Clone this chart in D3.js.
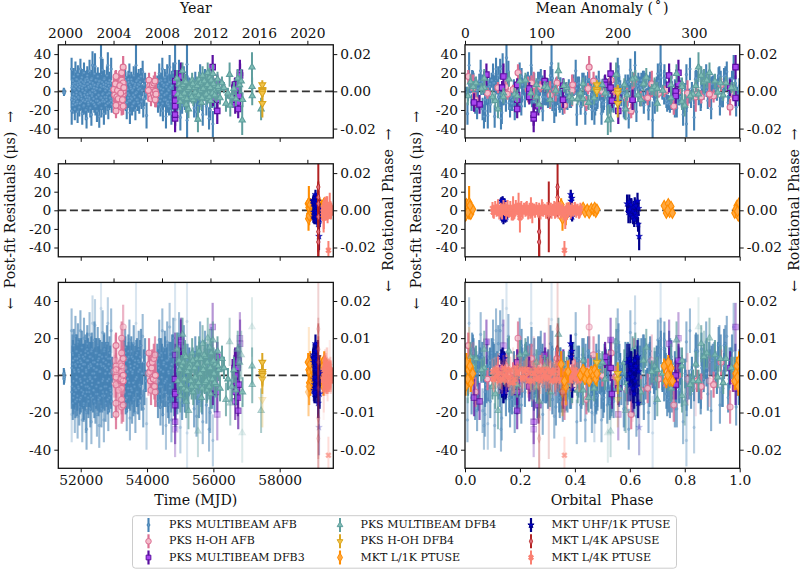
<!DOCTYPE html>
<html><head><meta charset="utf-8">
<script src="https://cdn.jsdelivr.net/npm/d3@7/dist/d3.min.js"></script>
<style>
html,body{margin:0;padding:0;background:#fff}
text{font-family:"DejaVu Serif",serif;fill:#111;white-space:pre}
</style></head><body><svg id="c" width="810" height="574"></svg>
<script>
// Each row: MJD, orbital phase, residual (us), uncertainty (us)
const pksMultibeamAfb = [
[51490,.021,1,3],[51495,.582,-2,3],[51500,.803,0,3],[51505,.344,-1,3],
[51725,.113,24,12],[51728,.471,-21,15],[51735,.862,4,8],[51744,.295,-6,9],[51752,.648,12,10],[51760,.037,-15,9],
[51772,.524,8,6],[51781,.917,-3,7],[51790,.206,16,9],[51802,.733,-10,8],[51811,.392,2,6],[51822,.064,-19,12],
[51833,.611,6,7],[51841,.953,21,11],[51853,.268,-8,8],[51862,.487,13,9],[51874,.826,-1,6],[51885,.149,-13,9],
[51893,.698,9,7],[51906,.325,-22,12],[51915,.559,18,10],[51926,.081,3,6],[51937,.779,-7,8],[51948,.432,11,9],
[51957,.987,-17,10],[51969,.231,5,7],[51980,.664,-2,6],[51991,.128,24,11],[52003,.506,-12,8],[52012,.891,7,7],
[52024,.355,-5,6],[52035,.743,15,9],[52046,.009,-24,12],[52055,.573,1,6],[52067,.282,10,7],[52079,.936,-9,8],
[52088,.421,-16,9],[52099,.712,20,11],[52111,.176,-4,7],[52120,.628,6,6],[52133,.048,-11,8],[52142,.839,13,9],
[52154,.462,-20,11],[52165,.249,2,6],[52176,.596,-29,11],[52187,.968,8,7],[52198,.311,17,10],[52209,.757,-6,7],
[52221,.097,12,8],[52232,.541,-14,9],[52243,.874,4,6],[52254,.218,-9,8],[52266,.403,22,12],[52277,.683,-1,6],
[52289,.164,-18,10],[52299,.908,10,8],[52311,.449,5,6],[52322,.794,-25,12],[52334,.026,14,9],[52345,.337,-3,6],
[52356,.619,28,15],[52368,.197,-12,8],[52379,.513,7,7],[52391,.851,-8,7],[52403,.272,1,6],[52414,.726,19,10],
[52431,.137,27,14],[52444,.474,-16,10],[52455,.985,3,6],[52466,.382,-10,8],[52478,.656,12,8],[52489,.073,-21,12],
[52501,.565,6,6],[52513,.923,16,10],[52525,.258,-4,6],[52536,.807,-13,9],[52548,.415,9,7],[52559,.108,-27,12],
[52571,.689,2,6],[52582,.531,11,8],[52594,.299,-7,7],[52612,.151,36,18],[52624,.771,-18,10],[52636,.943,5,7],
[52649,.373,-11,9],[52661,.602,23,12],[52674,.183,-2,6],[52686,.055,8,7],[52699,.497,-24,12],[52711,.841,14,9],
[52724,.241,-6,7],[52737,.639,4,6],[52751,.356,-15,10],[52764,.889,10,8],[52778,.443,-9,8],[52791,.121,17,10],
[52805,.719,-3,6],[52818,.015,28,14],[52832,.581,-19,11],[52846,.287,6,7],[52860,.958,-12,8],[52874,.678,1,6],
[52888,.225,9,7],[52903,.522,-8,8],[52918,.819,24,12],[52935,.092,-14,9],[52948,.405,3,7],
[53305,.747,11,9],[53322,.169,-6,7],[53340,.551,15,10],[53356,.318,-13,8],[53371,.881,4,6],[53388,.044,-19,11],
[53405,.628,9,7],[53421,.264,-2,6],[53436,.972,13,9],[53452,.459,-10,8],[53468,.702,19,11],[53484,.134,-23,12],
[53501,.392,5,6],[53518,.834,-7,7],[53533,.593,10,8],[53549,.205,-16,10],[53566,.067,2,6],[53582,.508,-4,6],
[53599,.926,17,10],[53615,.343,-12,8],[53631,.764,6,7],[53649,.181,-20,11],[53667,.241,28,24],[53684,.615,-1,6],
[53701,.031,12,8],[53716,.482,-9,8],[53733,.869,8,7],[53749,.276,14,10],[53766,.691,-15,9],[53782,.116,3,6],
[53799,.541,-6,7],[53816,.943,16,9],[53833,.368,-11,8],[53851,.785,1,6],[53868,.158,21,12],[53886,.578,-18,10],
[53904,.303,7,7],[53921,.997,-8,8],[53941,.427,11,9],[53961,.662,-3,6],[53985,.083,-26,14],
[54310,.219,9,8],[54330,.746,-14,9],[54350,.469,4,6],[54368,.102,19,11],[54387,.857,-6,7],[54405,.331,-17,10],
[54424,.631,12,8],[54442,.005,-1,6],[54461,.556,24,12],[54479,.283,-21,11],[54498,.912,6,7],[54516,.174,-9,8],
[54535,.713,15,9],[54552,.418,-3,6],[54571,.069,-27,13],[54589,.598,8,7],[54608,.806,18,11],[54626,.352,-11,9],
[54644,.143,2,6],[54663,.518,-16,10],[54681,.978,26,13],[54699,.254,-5,7],[54718,.673,10,8],[54735,.438,-24,12],
[54754,.029,13,9],[54772,.781,-8,7],[54791,.199,20,11],[54812,.614,-13,9],[54846,.315,30,24],[54865,.896,-19,11],
[54884,.491,3,6],[54903,.122,-6,7],[54925,.725,14,9],[54944,.386,-10,8],[54965,.057,22,12],[54984,.571,-2,6],
[55005,.834,-28,14],[55030,.236,9,8],[55058,.651,-15,9],[55083,.459,5,6],[55110,.948,17,10],[55139,.161,-12,8],
[55168,.367,-5,7],[55205,.712,29,25],[55208,.683,-31,20],[55240,.534,-11,9],[55275,.091,8,7],
[55420,.764,-18,10],[55455,.272,12,9],[55492,.624,-22,11],[55530,.041,6,7],[55565,.503,-14,9],[55601,.878,18,11],
[55640,.196,-9,8],[55680,.407,-25,12],[55712,.739,3,6],[55748,.318,14,10],[55790,.928,-16,10],[55828,.562,9,8],
[55870,.131,-29,12],[55905,.668,-20,11],[55945,.242,16,10],[55985,.806,-35,14],[56035,.476,-11,9],[56072,.018,6,8]
];
const pksMultibeamAfbDense = [
[51732,.352,-9,9],[51747,.777,6,10],[51765,.204,11,8],[51778,.613,-12,9],[51795,.047,3,8],[51808,.939,-7,10],
[51826,.508,9,8],[51838,.263,-14,9],[51857,.691,5,8],[51869,.126,-4,7],[51881,.847,13,9],[51898,.446,-11,8],
[51911,.017,7,9],[51923,.586,-6,8],[51944,.319,2,7],[51954,.751,10,9],[51973,.171,-13,8],[51986,.902,8,9],
[51998,.461,-3,7],[52008,.642,12,8],[52020,.244,-8,9],[52040,.059,4,8],[52060,.823,-10,8],[52073,.378,6,7],
[52094,.527,-15,9],[52105,.984,9,8],[52126,.147,-1,7],[52138,.705,11,8],[52148,.289,-6,9],[52160,.436,3,7],
[52182,.073,-9,8],[52193,.861,14,9],[52204,.616,-3,8],[52216,.332,8,7],[52227,.188,-12,9],[52238,.551,5,8],
[52260,.768,-7,8],[52271,.921,10,8],[52283,.498,-2,7],[52294,.035,6,9],[52306,.251,-11,8],[52317,.674,13,8],
[52340,.413,-5,7],[52351,.801,1,8],[52363,.103,9,9],[52385,.592,-8,8],[52398,.966,4,7],[52409,.345,-14,9],
[52420,.209,7,8],[52438,.719,-1,7],[52450,.528,12,8],[52472,.085,-6,8],[52484,.273,3,7],[52507,.884,-10,9],
[52519,.637,8,8],[52542,.463,-4,7],[52553,.156,11,9],[52577,.741,-12,8],[52588,.396,2,7],[52606,.999,6,8],
[52618,.569,-7,9],[52643,.222,10,8],[52655,.308,-3,7],[52667,.859,-9,9],[52692,.117,5,8],[52705,.651,13,9],
[52718,.482,-11,8],[52744,.043,1,7],[52757,.781,7,8],[52772,.337,-6,9],[52798,.609,3,7],[52812,.191,-13,8],
[52825,.947,9,9],[52853,.519,-2,7],[52867,.266,12,9],[52881,.078,-7,8],[52896,.731,4,8],[52911,.424,-10,8],
[53314,.089,5,8],[53331,.672,-9,8],[53348,.229,12,9],[53364,.491,-3,7],[53380,.897,8,8],[53397,.362,-12,8],
[53413,.752,2,7],[53429,.138,-7,8],[53444,.584,10,8],[53460,.011,-4,7],[53476,.317,7,9],[53493,.806,-10,9],
[53509,.215,3,7],[53526,.448,13,8],[53541,.649,-8,8],[53558,.963,1,8],[53574,.106,9,8],[53591,.533,-13,9],
[53607,.287,4,7],[53623,.725,-6,8],[53640,.409,8,8],[53658,.869,-2,7],[53676,.052,11,8],[53692,.608,-9,8],
[53708,.196,5,8],[53725,.478,-12,9],[53741,.913,2,7],[53758,.347,7,8],[53774,.658,-5,8],[53790,.081,10,9],
[54318,.561,-8,9],[54340,.037,6,8],[54359,.688,-3,7],[54377,.252,11,9],[54396,.497,-10,8],[54414,.826,3,7],
[54433,.141,-6,9],[54451,.391,9,8],[54470,.736,-13,9],[54488,.603,2,7],[54507,.963,7,8],[54525,.208,-4,8],
[54544,.452,12,9],[54562,.789,-9,8],[54580,.111,5,7],[54598,.327,-2,8],[54617,.668,8,9],[54635,.529,-14,9],
[54654,.879,1,7],[54672,.063,10,8],[54690,.296,-7,8],[54708,.591,4,8],[54727,.753,-11,9],[54745,.178,6,7],
[54763,.409,-3,8],[54782,.931,13,9],[54800,.637,-8,8],[54825,.231,2,7],[54856,.478,9,8],[54874,.815,-5,8],
[54915,.024,-12,9],[54955,.347,7,8],[54995,.696,-1,7],[55045,.547,11,9],[55072,.128,-9,8],[55124,.869,4,7],
[55155,.283,-6,8],[55222,.439,8,9],[55260,.991,-3,8],[55440,.618,5,8],[55510,.183,-7,9],[55580,.395,10,8],
[55660,.858,-12,9],[55730,.521,2,8],[55810,.075,-5,9],[55890,.729,7,8],[55965,.302,-9,9],[56050,.961,-2,9]
];
const pksHohAfb = [
[53064,.012,16,7],[53064,.148,5,7],[53064,.605,-21,8],[53064,.448,3,6],[53064,.362,-15,9],[53064,.725,0,6],[53064,.905,-5,7],[53064,.548,-1,6],
[53235,.193,20,9],[53235,.532,12,8],[53235,.932,7,7],[53235,.442,-13,8],[53235,.154,-3,6],[53235,.665,-7,8],[53235,.965,-17,9],[53235,.275,5,6],[53235,.735,2,5],[53235,.082,-2,6],
[53280,.452,26,12],[53280,.76,-16,9],[53280,.975,-3,6],[53280,.50,0,6],[53280,.335,9,7],
[53000,.23,2,14],[53025,.31,-4,15],[53045,.68,8,14],[53090,.84,-6,16],[53110,.39,1,17],[53135,.59,-8,12],[53180,.25,6,15],[53205,.81,-2,14],[53258,.61,-9,16],[53300,.03,4,14],
[54060,.615,12,8],[54080,.295,6,6],[54090,.175,2,5],[54105,.845,-3,6],[54120,.64,-8,8],[54140,.12,4,6],[54160,.392,7,7],
[54175,.552,-1,6],[54190,.705,-2,5],[54205,.242,9,8],[54225,.86,-6,7],[54240,.468,11,10],[54245,.038,-9,8],[54250,.775,0,6],[54040,.33,1,12],[54270,.89,-3,14]
];
const pksMultibeamDfb3 = [
[54846,.25,-29,15],[54846,.25,-25,12],[54846,.267,-16,10],[54850,.29,11,12],[54840,.234,-2,8],[54846,.357,-9,9],[54850,.535,-10,8],
[55025,.53,19,12],[55025,.078,18,12],[55025,.14,16,14],[55020,.292,7,8],
[55979,.985,26,13],[55979,.965,4,9],[55985,.558,-7,9],
[56118,.558,-21,14],[56118,.61,-9,11],[56118,.51,10,8],
[56640,.135,4,7],[56645,.234,3,7],[56650,.19,7,7],[56655,.51,7,8],[56660,.053,-14,10],[56665,.19,-9,7],[56670,.767,0,8],
[56680,.358,6,8],[56690,.234,-6,8],[56700,.19,-4,7],[56710,.743,7,8],[56720,.985,-7,9],[56730,.53,4,7],[56740,.033,-12,10],
[56750,.19,-19,10],[56760,.777,8,9],[56770,.767,-5,8],[56800,.777,20,14],[56805,.743,17,13]
];
const pksMultibeamDfb4 = [
[54900,.62,14,9],[54930,.18,-3,7],[54965,.43,8,7],[55000,.79,-11,9],[55035,.03,5,6],[55070,.34,22,9],[55105,.56,-7,7],
[55145,.91,11,8],[55180,.27,-14,9],[55220,.68,2,6],[55250,.12,-19,10],[55290,.49,6,6],[55325,.83,-3,6],[55360,.22,12,8],
[55395,.64,-9,7],[55430,.07,4,6],[55465,.38,-6,7],[55500,.95,9,7],[55535,.53,-30,14],[55570,.16,13,8],[55605,.72,1,6],
[55640,.45,-12,8],[55675,.86,17,10],[55710,.29,5,6],[55740,.59,-4,6],[55770,.02,10,8],[55800,.41,-8,7],[55830,.89,20,11],
[55860,.24,-2,6],[55890,.66,15,10],[55920,.11,-10,8],[55950,.50,7,6],[55985,.77,19,10],[56020,.33,1,6],[56055,.84,6,7],
[56090,.19,-5,7],[56125,.61,13,8],[56160,.06,3,6],[56200,.47,-7,7],[56260,.93,9,7],[56320,.37,4,6],[56380,.70,-13,9],
[56440,.14,-2,6],[56490,.55,18,13],[56510,.80,-15,12],[56560,.26,-6,8],[56620,.98,3,7],[56680,.43,-8,8],[56735,.07,14,10],
[56790,.75,7,10],[56840,.87,11,13],[56870,.52,-31,16],[56880,.31,-9,8],[57165,.85,26,16],[57168,.69,5,10],[57172,.01,-5,10],[57440,.585,-19,12],
[54985,.70,3,7],[55020,.82,-5,6],[55090,.26,7,7],[55125,.51,-2,6],[55165,.87,10,7],[55200,.39,-8,7],[55270,.97,4,6],[55345,.14,-6,7],
[55380,.79,8,7],[55450,.92,-1,6],[55515,.36,6,7],[55550,.63,-4,6],[55620,.04,9,7],[55660,.75,-7,7],[55695,.47,3,6],[55725,.20,11,8],
[55785,.85,-3,6],[55815,.58,7,7],[55875,.10,-6,7],[55905,.30,4,6],[55935,.88,12,8],[55970,.42,-2,6],[56005,.65,8,7],[56040,.94,-4,6],[56140,.79,5,6]
];
const pksHohDfb4 = [
[57476,.48,7,5],[57478,.48,2,5],[57476,.556,1,6],[57480,.48,0,6],[57476,.556,-2,8],[57478,.556,-13,15]
];
const mktL1kPtuse = [
[58860,.005,7,5],[58880,.012,3,4],[58900,.021,-4,5],[58910,.028,1,4],[58925,.002,-6,5],[58880,.015,8,18],[58935,.018,5,4],[58950,.01,-2,4],
[58870,.355,-9,13],[58890,.367,-6,10],[58905,.375,2,6],[58920,.35,6,7],[58960,.362,-3,5],[58980,.42,0,3],[59000,.43,3,3],[59020,.437,-2,3],
[59040,.445,1,3],[59060,.452,-3,3],[59080,.46,2,3],[59100,.468,0,3],[59120,.476,-2,3],[59140,.472,3,3],[59160,.48,1,3],
[59180,.725,5,4],[59200,.733,-3,4],[59220,.74,7,4],[59240,.745,-2,4],[59260,.75,4,4],[59275,.738,0,4],[59290,.755,-3,3],
[59300,.982,-3,5],[59310,.99,5,5],[59320,.995,-6,5],[59330,.986,1,4],[59345,.998,8,5],[59350,.992,-1,4]
];
const mktUhfPtuse = [
[59010,.132,10,4],[59020,.137,11,4],[59030,.143,9,4],[59040,.135,-8,4],[59050,.14,-10,5],[59060,.147,-9,4],[59070,.15,-7,5],
[59080,.385,17,5],[59090,.389,13,5],[59100,.386,10,4],[59110,.39,-7,5],
[59020,.59,7,10],[59030,.595,-2,12],[59040,.598,9,8],[59050,.602,-5,9],[59060,.606,4,9],[59070,.61,-1,8],[59080,.604,6,7],
[59090,.612,-7,8],[59100,.615,3,7],[59110,.618,8,6],[59120,.62,-3,8],[59130,.622,5,6],[59140,.625,-6,9],[59150,.628,10,9],
[59160,.63,-15,8],[59175,.632,2,8],[59185,.634,-28,15],[59195,.60,1,7],[59205,.616,-10,8]
];
const mktL4kApsuse = [
[59165,.337,25,28],[59165,.337,14,14],[59165,.337,7,14],[59165,.305,-7,38],[59165,.27,-23,28],[59165,.27,-34,28]
];
const mktL4kPtuse = [
[59320,.100,2,7],[59480,.105,-2,7],[59360,.110,3,7],[59520,.115,-1,6],[59400,.120,3,9],[59440,.125,-3,7],[59340,.130,1,7],[59540,.135,-2,8],
[59380,.140,4,7],[59500,.145,0,6],[59420,.150,-3,7],[59330,.155,2,9],[59460,.160,-1,7],[59530,.165,3,7],[59350,.170,-4,7],[59410,.175,2,13],
[59490,.180,-2,7],[59370,.185,4,7],[59450,.190,1,6],[59510,.195,5,14],[59325,.200,-8,16],[59430,.205,3,7],[59390,.210,-2,7],[59545,.215,2,6],
[59470,.220,-1,6],[59345,.225,3,7],[59405,.230,-3,7],[59525,.235,1,7],[59365,.240,3,11],[59445,.245,-3,11],[59495,.250,1,6],[59335,.255,-2,6],
[59415,.260,3,6],[59535,.265,-1,6],[59385,.270,2,6],[59465,.275,-3,7],[59355,.280,3,9],[59505,.285,-1,6],[59425,.290,1,6],[59315,.295,-2,7],
[59475,.300,3,6],[59395,.305,-1,6],[59515,.310,2,6],[59340,.315,-3,6],[59455,.320,1,6],[59375,.325,3,7],[59540,.330,-2,6],[59435,.335,6,9],
[59485,.340,-2,7],[59360,.345,3,6],[59405,.350,-3,6],[59525,.355,1,6],[59470,.362,-43,10],[59330,.365,-8,12],[59445,.370,2,6],[59500,.375,-2,6],
[59385,.380,3,6],[59420,.385,-3,6],[59535,.390,2,6],[59350,.395,-1,6],[59460,.400,3,6],[59395,.405,-2,6],[59510,.410,1,6],[59345,.415,-3,6],[59490,.420,2,6],
[59390,.1025,-2,6],[59450,.1175,1,6],[59505,.1325,-2,6],[59365,.1475,3,6],[59525,.1625,-1,6],[59415,.1775,-4,6],[59335,.1925,2,6],[59485,.2075,-1,6],[59375,.2225,3,6],
[59545,.2375,-3,6],[59430,.2525,1,6],[59320,.2675,-2,6],[59500,.2825,3,6],[59400,.2975,-1,6],[59350,.3125,2,6],[59465,.3275,-3,6],[59530,.3425,1,6],[59380,.3575,-2,6],
[59440,.3725,2,6],[59515,.3875,-1,6],[59355,.4025,1,6],[59425,.4175,-2,6]
];
const seriesNames = ["PKS MULTIBEAM AFB","PKS H-OH AFB","PKS MULTIBEAM DFB3","PKS MULTIBEAM DFB4","PKS H-OH DFB4","MKT L/1K PTUSE","MKT UHF/1K PTUSE","MKT L/4K APSUSE","MKT L/4K PTUSE"];
const seriesRows = [pksMultibeamAfb.concat(pksMultibeamAfbDense),pksHohAfb,pksMultibeamDfb3,pksMultibeamDfb4,pksHohDfb4,mktL1kPtuse,mktUhfPtuse,mktL4kApsuse,mktL4kPtuse];
const edgeColors = ["#4682b4","#db7093","#5a0fa0","#5f9e9e","#daa520","#ff8c00","#00008b","#b22222","#fa8072"];
const faceColors = ["#6c9fcb","#f5bccb","#a845ee","#7fbdb5","#f2c44a","#ffa840","#0000cd","#e0707e","#fa8072"];
const markerKinds = ["circle","bigcircle","square","up","down","diamond","star","thin","x"];
const barWidths = [2.1,2.2,2.2,2,2,2.1,2.2,2,2];
const markerSizes = [5,28,30,17,20,32,14,20,20];
const legendSizes = [6,24,22,14,14,22,12,18,14];
const bottomBarAlpha = [1,1,1,1,1,1,1,1,.4];
const topGroup = [0,1,2,3,4], midGroup = [5,6,7,8];
const allGroupTime = [0,1,2,3,4,5,8,6,7], allGroupPhase = [0,1,2,3,4,7,6,8,5];

const yTicks12 = [-40,-20,0,20,40], yTicks3 = [-40,-20,0,20,40];
const phaseRight12 = [-0.02,0,0.02], phaseRight3 = [-0.02,-0.01,0,0.01,0.02];
const mjdTicks = [52000,54000,56000,58000], yearTicks=[2000,2004,2008,2012,2016,2020];
const phaseTicks = [0,.2,.4,.6,.8,1], anomalyTicks=[0,100,200,300];

const svg = d3.select("#c");
const cols = [{x0:58.3,x1:333.3},{x0:465,x1:739.7}];
const rows = [{y0:44.8,y1:137.9},{y0:163.8,y1:256.8},{y0:282.4,y1:468.3}];
const mjdScale = d3.scaleLinear().domain([51324,59617]);
const yearScale = d3.scaleLinear().domain([1999.44,2022.14]);
const phaseScale = d3.scaleLinear().domain([0,1]);
const anomScale = d3.scaleLinear().domain([0,360]);
const alphaScale = d3.scaleLinear().domain([6,16]).range([1,.2]).clamp(true);

function symbolPath(kind,size){
  const s=d3.symbol().size(size);
  if(kind==="circle"||kind==="bigcircle")return s.type(d3.symbolCircle)();
  if(kind==="square")return s.type(d3.symbolSquare)();
  if(kind==="up"||kind==="down")return s.type(d3.symbolTriangle)();
  if(kind==="diamond"||kind==="thin")return s.type(d3.symbolDiamond)();
  if(kind==="star")return s.type(d3.symbolStar)();
  return s.type(d3.symbolCross)();
}
function symbolTf(kind,x,y){
  let t=`translate(${x},${y})`;
  if(kind==="down")t+=" rotate(180)";
  if(kind==="x")t+=" rotate(45)";
  if(kind==="thin")t+=" scale(.7,1)";
  return t;
}
cols.forEach((c,ci)=>{
  rows.forEach((r,ri)=>{
    const group = ri===0?topGroup:ri===1?midGroup:(ci===0?allGroupTime:allGroupPhase);
    const x=(ci===0?mjdScale.copy():phaseScale.copy()).range([c.x0,c.x1]);
    const xTop=(ci===0?yearScale.copy():anomScale.copy()).range([c.x0,c.x1]);
    const y=d3.scaleLinear().domain([-50,50]).range([r.y1,r.y0]);
    const yR=d3.scaleLinear().domain([-.025,.025]).range([r.y1,r.y0]);
    const g=svg.append("g");
    const id=`clip${ci}${ri}`;
    g.append("clipPath").attr("id",id).append("rect").attr("x",c.x0).attr("y",r.y0).attr("width",c.x1-c.x0).attr("height",r.y1-r.y0);
    const plot=g.append("g").attr("clip-path",`url(#${id})`);
    plot.append("line").attr("x1",c.x0).attr("x2",c.x1).attr("y1",y(0)).attr("y2",y(0))
      .attr("stroke","#333").attr("stroke-width",1.8).attr("stroke-dasharray","8,3.6");
    group.forEach(si=>{
      const d=seriesRows[si], k=markerKinds[si];
      const px=p=>ci===0?x(p[0]):x(p[1]);
      const op=p=>ri===2?alphaScale(p[3]):1;
      const sg=plot.append("g");
      sg.selectAll("line").data(d).join("line")
        .attr("x1",px).attr("x2",px).attr("y1",p=>y(p[2]-p[3])).attr("y2",p=>y(p[2]+p[3]))
        .attr("stroke",edgeColors[si]).attr("stroke-width",barWidths[si])
        .attr("opacity",p=>op(p)*(ri===2?bottomBarAlpha[si]:1));
      sg.selectAll("path").data(d).join("path")
        .attr("d",symbolPath(k,markerSizes[si])).attr("transform",p=>symbolTf(k,px(p),y(p[2])))
        .attr("fill",faceColors[si]).attr("stroke",edgeColors[si]).attr("stroke-width",k==="circle"?.5:(k==="x"||k==="star"?.4:1.1))
        .attr("opacity",op);
    });
    const leftAxis=d3.axisLeft(y).tickValues(ri===2?yTicks3:yTicks12).tickSize(4).tickPadding(3).tickFormat(v=>String(v));
    const rightTicks=ri===2?phaseRight3:phaseRight12;
    const rightAxis=d3.axisRight(yR).tickValues(rightTicks).tickSize(4).tickPadding(3).tickFormat(v=>d3.format(".2f")(v).replace("\u2212","-"));
    const bottom=d3.axisBottom(x).tickValues(ci===0?mjdTicks:phaseTicks).tickSize(4).tickPadding(3)
      .tickFormat(ri===2?(ci===0?d3.format("d"):d3.format(".1f")):"");
    const top=d3.axisTop(xTop).tickValues(ci===0?yearTicks:anomalyTicks).tickSize(4).tickPadding(3)
      .tickFormat(ri===0?d3.format("d"):"");
    const ax=[
      g.append("g").attr("transform",`translate(${c.x0},0)`).call(leftAxis),
      g.append("g").attr("transform",`translate(${c.x1},0)`).call(rightAxis),
      g.append("g").attr("transform",`translate(0,${r.y1})`).call(bottom),
      g.append("g").attr("transform",`translate(0,${r.y0})`).call(top)];
    ax.forEach(a=>{
      a.select(".domain").remove();
      a.selectAll("line").attr("stroke","#111").attr("stroke-width",1);
      a.selectAll("text").style("font-size","13.8px").attr("fill","#111");
    });
    g.append("rect").attr("x",c.x0).attr("y",r.y0).attr("width",c.x1-c.x0).attr("height",r.y1-r.y0)
      .attr("fill","none").attr("stroke","#111").attr("stroke-width",1.3);
  });
});
function label(x,y,t,rot){
  const e=svg.append("text").attr("text-anchor","middle").attr("dominant-baseline","middle").style("font-size","14.2px").text(t);
  e.attr("transform",`translate(${x},${y})`+(rot?` rotate(${rot})`:""));
}
label(195.8,9,"Year");
label(602,9,"Mean Anomaly (\u200A\u02DA\u200A)");
label(195.8,501,"Time (MJD)");
label(602,501,"Orbital  Phase");
[[11,210],[417,210]].forEach(p=>label(p[0],p[1],"\u2190  Post-fit Residuals (\u03BCs)  \u2192",-90));
[[389,210],[795,210]].forEach(p=>label(p[0],p[1],"\u2190  Rotational Phase  \u2192",-90));
// legend
const lg=svg.append("g");
lg.append("rect").attr("x",132.5).attr("y",515.7).attr("width",544).attr("height",52.5).attr("rx",3)
  .attr("fill","#fff").attr("stroke","#ccc").attr("stroke-width",1);
const legendCols=[148.5,340,531], legendRows=[525,541.3,557.5];
seriesNames.forEach((n,i)=>{
  const cx=legendCols[Math.floor(i/3)], cy=legendRows[i%3], k=markerKinds[i];
  lg.append("line").attr("x1",cx).attr("x2",cx).attr("y1",cy-7).attr("y2",cy+7).attr("stroke",edgeColors[i]).attr("stroke-width",barWidths[i]);
  lg.append("path").attr("d",symbolPath(k,legendSizes[i])).attr("transform",symbolTf(k,cx,cy))
    .attr("fill",faceColors[i]).attr("stroke",edgeColors[i]).attr("stroke-width",1);
  lg.append("text").attr("x",cx+20.5).attr("y",cy).attr("dominant-baseline","middle").style("font-size","11px").text(n);
});
</script></body></html>
